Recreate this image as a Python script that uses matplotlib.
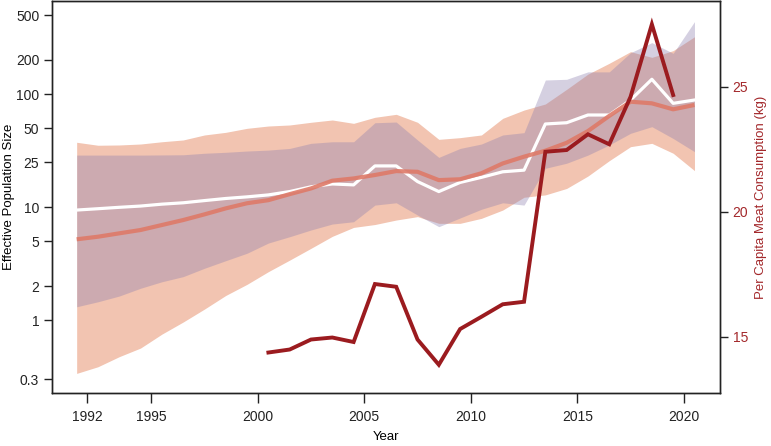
import numpy as np
import matplotlib as mpl
import matplotlib.pyplot as plt

mpl.rcParams.update({
    "font.family": ["Liberation Sans", "DejaVu Sans"],
    "font.size": 10,
    "axes.labelsize": 9.5,
    "axes.linewidth": 1.0,
})

# ===== DATA =====
years = np.arange(1991.5, 2021.0, 1.0)   # 1991.5 .. 2020.5

# model A band (orange) and its median (salmon line)
orange_hi = [37.4, 35.2, 35.4, 36.1, 37.8, 39.2, 43.4, 45.8, 49.7, 52.1,
             53.2, 56.2, 58.9, 55.0, 62.2, 66.1, 56.2, 39.7, 41.1, 43.4,
             60.9, 72.1, 81.6, 110, 150, 187, 237, 211, 242, 321]
orange_lo = [0.337, 0.386, 0.474, 0.565, 0.75, 0.96, 1.25, 1.65, 2.07, 2.68,
             3.39, 4.31, 5.5, 6.6, 7.0, 7.67, 8.22, 7.17, 7.17, 7.94,
             9.40, 12.2, 12.8, 14.6, 18.8, 25.7, 34.2, 36.6, 29.9, 21]
salmon_med = [5.18, 5.46, 5.85, 6.26, 6.93, 7.67, 8.61, 9.73, 10.8, 11.5,
              13.0, 14.6, 17.1, 17.9, 19.2, 20.8, 20.5, 17.3, 17.6, 19.9,
              24.3, 27.9, 31.5, 37.0, 47.0, 64.0, 85.5, 82.7, 73.2, 80.0]

# model B band (purple) and its median (white line)
purple_hi = [28.8, 28.8, 28.8, 28.8, 28.9, 29.0, 29.9, 30.5, 31.3, 31.9,
             33.0, 36.6, 37.8, 37.8, 55.7, 56.5, 39.2, 27.5, 33.0, 36.1,
             43.4, 45.5, 133, 135, 157, 157, 232, 285, 229, 437]
purple_lo = [1.31, 1.45, 1.63, 1.91, 2.18, 2.42, 2.87, 3.35, 3.9, 4.8,
             5.46, 6.26, 7.07, 7.41, 10.4, 10.9, 8.49, 6.70, 8.0, 9.55,
             10.9, 10.4, 22.0, 24.4, 28.8, 35.4, 44.9, 51.4, 40.4, 30.9]
white_med = [9.40, 9.66, 9.94, 10.2, 10.6, 10.9, 11.4, 11.9, 12.3, 12.8,
             13.7, 15.1, 16.0, 15.7, 23.1, 23.1, 16.8, 13.7, 16.5, 18.3,
             20.5, 21.2, 54.3, 55.7, 65.2, 65.2, 88.5, 135, 82.7, 88.5]

# per capita meat consumption (kg), 2000.5 .. 2019.5
meat_years = np.arange(2000.5, 2020.0, 1.0)
meat_kg = [14.37, 14.49, 14.89, 14.97, 14.79, 17.11, 17.0, 14.89, 13.88, 15.31,
           15.8, 16.3, 16.4, 22.4, 22.47, 23.1, 22.7, 24.6, 27.5, 24.67]

y_ticks = [0.3, 1, 2, 5, 10, 25, 50, 100, 200, 500]
y_tick_labels = ["0.3", "1", "2", "5", "10", "25", "50", "100", "200", "500"]
x_ticks = [1992, 1995, 2000, 2005, 2010, 2015, 2020]
meat_ticks = [15, 20, 25]

# ===== COLORS =====
C_ORANGE = "#f2c4b1"
C_PURPLE = "#8d80b0"
C_SALMON = "#de7a68"
C_MEAT = "#9b1b1f"
C_MEAT_TXT = "#a3282b"
C_SPINE = "#222222"

# ===== PLOT =====
fig = plt.figure(figsize=(7.71, 4.46), dpi=100)
ax = fig.add_axes([0.0671, 0.1188, 0.8668, 0.8789])

ax.fill_between(years, orange_lo, orange_hi, color=C_ORANGE, lw=0, zorder=1)
ax.fill_between(years, purple_lo, purple_hi, color=C_PURPLE, alpha=0.37, lw=0, zorder=2)
ax.plot(years, white_med, color="white", lw=2.3, zorder=3)
ax.plot(years, salmon_med, color=C_SALMON, lw=3.0, alpha=0.9, zorder=4,
        solid_capstyle="butt")

ax.set_yscale("log")
ax.set_ylim(0.226, 665)
ax.set_xlim(1990.33, 2021.7)
ax.set_yticks(y_ticks)
ax.set_yticklabels(y_tick_labels)
ax.yaxis.set_minor_locator(mpl.ticker.NullLocator())
ax.set_xticks(x_ticks)
ax.tick_params(axis="y", length=6, width=1.0, pad=3, colors=C_SPINE)
ax.tick_params(axis="x", length=7, width=1.0, pad=5, colors=C_SPINE)
for s in ax.spines.values():
    s.set_color(C_SPINE)
ax.set_xlabel("Year")
ax.xaxis.set_label_coords(0.5, -0.097)
ax.set_ylabel("Effective Population Size")
ax.yaxis.set_label_coords(-0.055, 0.5)

ax2 = ax.twinx()
ax2.plot(meat_years, meat_kg, color=C_MEAT, lw=2.8, solid_joinstyle="miter")
ax2.set_ylim(12.75, 28.43)
ax2.set_yticks(meat_ticks)
ax2.tick_params(axis="y", length=6, width=1.0, pad=3, color=C_SPINE,
                labelcolor=C_MEAT_TXT)
for s in ax2.spines.values():
    s.set_color(C_SPINE)
ax2.set_ylabel("Per Capita Meat Consumption (kg)", color=C_MEAT_TXT)
ax2.yaxis.set_label_coords(1.052, 0.5)

fig.savefig("out.png", dpi=100)
